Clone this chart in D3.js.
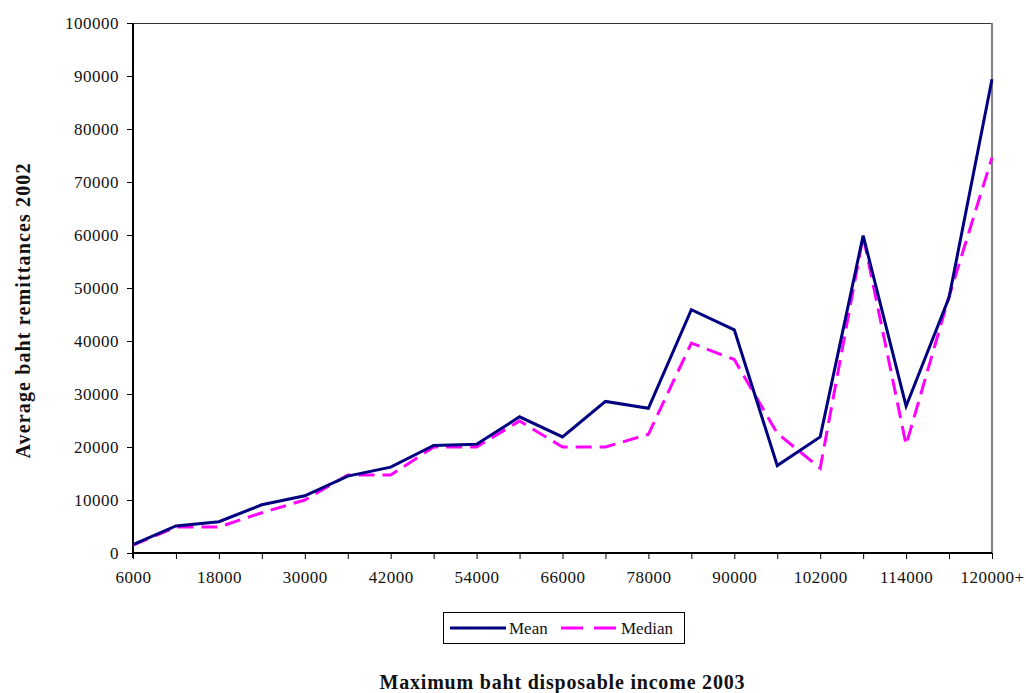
<!DOCTYPE html>
<html>
<head>
<meta charset="utf-8">
<script src="https://cdn.jsdelivr.net/npm/d3@7"></script>
<style>
  body { margin: 0; background: #fff; }
  svg { display: block; }
  svg text { font-family: "Times New Roman", "Liberation Serif", Tinos, serif; }
</style>
</head>
<body>
<svg id="chart" width="1026" height="693"></svg>
<script>
// Income brackets (maximum baht disposable income 2003)
const categories = ["6000","12000","18000","24000","30000","36000","42000","48000","54000",
  "60000","66000","72000","78000","84000","90000","96000","102000","108000","114000","120000","120000+"];
// Only every other bracket is labelled on the axis
const tickLabels = ["6000","18000","30000","42000","54000","66000","78000","90000","102000","114000","120000+"];

// Average baht remittances 2002
const meanValues = [1600, 5100, 5900, 9100, 10800, 14500, 16200, 20300, 20500, 25700, 21900,
  28600, 27300, 45900, 42100, 16500, 21900, 59900, 27700, 48200, 89400];
const medianValues = [1500, 4900, 4900, 7600, 10000, 14700, 14700, 20000, 20000, 24900, 20000,
  20000, 22400, 39600, 36500, 22600, 16000, 59800, 20400, 48400, 74600];

const yTicks = d3.range(0, 100001, 10000);

const svg = d3.select("#chart");
const plotLeft = 133, plotRight = 992, plotTop = 23, plotBottom = 553;

const x = d3.scalePoint().domain(categories).range([plotLeft, plotRight]);
const y = d3.scaleLinear().domain([0, 100000]).range([plotBottom, plotTop]);

// plot frame: top and right borders
svg.append("line").attr("x1", plotLeft).attr("x2", plotRight).attr("y1", plotTop + 0.5).attr("y2", plotTop + 0.5)
  .attr("stroke", "#333").attr("stroke-width", 1);
svg.append("line").attr("x1", plotRight).attr("x2", plotRight).attr("y1", plotTop).attr("y2", plotBottom)
  .attr("stroke", "#808080").attr("stroke-width", 2);

// y axis
const yAxis = svg.append("g").attr("transform", `translate(${plotLeft},0)`)
  .call(d3.axisLeft(y).tickValues(yTicks).tickSize(6).tickPadding(8).tickFormat(d3.format("d")));
yAxis.attr("font-family", null);
yAxis.select(".domain").attr("stroke", "#000").attr("stroke-width", 2).attr("d", `M0,${plotTop}V${plotBottom + 5}`);
yAxis.selectAll(".tick line").attr("stroke", "#000").attr("stroke-width", 1);
yAxis.selectAll(".tick text").attr("font-size", 17)
  .attr("letter-spacing", "0.5px").attr("fill", "#111");

// x axis
const xAxis = svg.append("g").attr("transform", `translate(0,${plotBottom})`)
  .call(d3.axisBottom(x).tickSize(6).tickPadding(12)
    .tickFormat(d => tickLabels.includes(d) ? d : ""));
xAxis.attr("font-family", null);
xAxis.select(".domain").attr("stroke", "#000").attr("stroke-width", 2).attr("d", `M${plotLeft},0H${plotRight}`);
xAxis.selectAll(".tick line").attr("stroke", "#000").attr("stroke-width", 1);
xAxis.selectAll(".tick text").attr("font-size", 17)
  .attr("letter-spacing", "0.5px").attr("fill", "#111");

// series lines
const line = d3.line().x((d, i) => x(categories[i])).y(d => y(d));
svg.append("path").datum(medianValues).attr("d", line).attr("fill", "none")
  .attr("stroke", "#FF00FF").attr("stroke-width", 3).attr("stroke-dasharray", "16,8");
svg.append("path").datum(meanValues).attr("d", line).attr("fill", "none")
  .attr("stroke", "#000080").attr("stroke-width", 3);

// legend
const lg = svg.append("g");
lg.append("rect").attr("x", 443.5).attr("y", 612.5).attr("width", 241).attr("height", 31)
  .attr("fill", "#fff").attr("stroke", "#000").attr("stroke-width", 1);
lg.append("line").attr("x1", 450).attr("x2", 506).attr("y1", 628).attr("y2", 628)
  .attr("stroke", "#000080").attr("stroke-width", 3);
lg.append("text").attr("x", 509).attr("y", 634).attr("font-size", 17).attr("fill", "#111").text("Mean");
lg.append("line").attr("x1", 561).attr("x2", 617).attr("y1", 628).attr("y2", 628)
  .attr("stroke", "#FF00FF").attr("stroke-width", 3).attr("stroke-dasharray", "22,11");
lg.append("text").attr("x", 621).attr("y", 634).attr("font-size", 17).attr("fill", "#111").text("Median");

// axis titles
svg.append("text").attr("x", 562).attr("y", 689).attr("text-anchor", "middle")
  .attr("font-size", 20).attr("font-weight", "bold").attr("fill", "#111")
  .attr("textLength", 365).attr("lengthAdjust", "spacing")
  .text("Maximum baht disposable income 2003");
svg.append("text").attr("transform", "translate(30,311) rotate(-90)").attr("text-anchor", "middle")
  .attr("font-size", 20).attr("font-weight", "bold").attr("fill", "#111")
  .attr("textLength", 295).attr("lengthAdjust", "spacing")
  .text("Average baht remittances 2002");
</script>
</body>
</html>
